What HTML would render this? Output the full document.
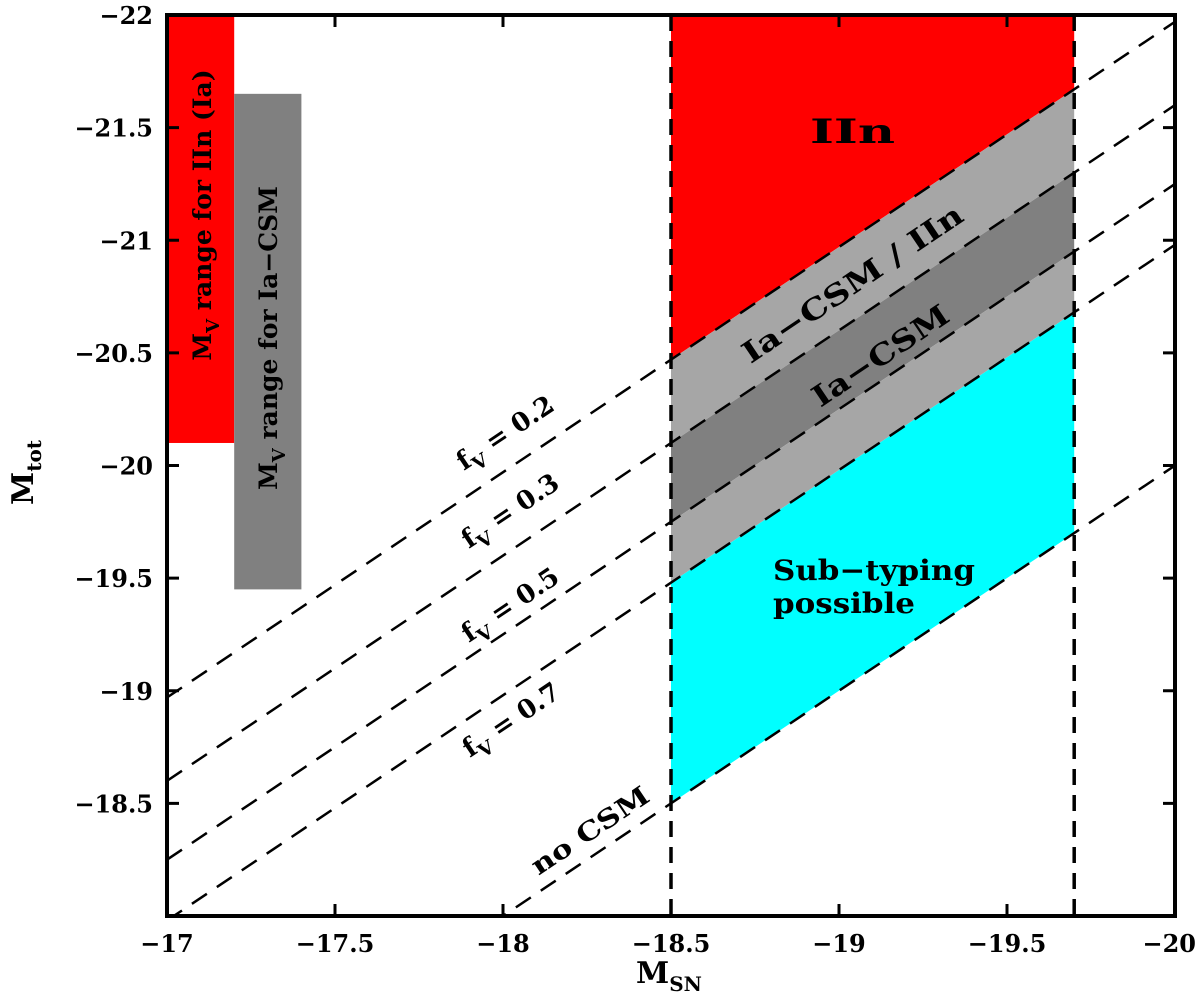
<!DOCTYPE html>
<html><head><meta charset="utf-8"><style>
html,body{margin:0;padding:0;background:#fff;width:1200px;height:1004px;overflow:hidden;}
svg{display:block;font-family:"DejaVu Serif","Liberation Serif",serif;font-weight:bold;}
text{font-weight:bold;}
</style></head><body>
<div style="position:relative;width:1200px;height:1004px;overflow:hidden;">
<svg id="chart" width="1200" height="1004" viewBox="0 0 1200 1004" style="position:absolute;left:0;top:0;"></svg>
<svg width="1200" height="1004" style="position:absolute;left:0;top:0;">
<text x="636" y="983" font-size="30">M<tspan font-size="20" dy="8">SN</tspan></text>
<text transform="translate(33,505) rotate(-90)" font-size="30">M<tspan font-size="20" dy="8">tot</tspan></text>
<text x="810" y="143" font-size="34" textLength="85" lengthAdjust="spacingAndGlyphs">IIn</text>
<text transform="translate(858,292) rotate(-33.9)" text-anchor="middle" font-size="29" textLength="259" lengthAdjust="spacingAndGlyphs">Ia−CSM / IIn</text>
<text transform="translate(886,364) rotate(-33.9)" text-anchor="middle" font-size="29" textLength="158" lengthAdjust="spacingAndGlyphs">Ia−CSM</text>
<text x="773" y="580" font-size="28" textLength="202" lengthAdjust="spacingAndGlyphs">Sub−typing</text>
<text x="773" y="613" font-size="28" textLength="142" lengthAdjust="spacingAndGlyphs">possible</text>
<text transform="translate(510,440) rotate(-33.9)" text-anchor="middle" font-size="26">f<tspan font-size="19" dy="8">V</tspan><tspan dy="-8"> = 0.2</tspan></text>
<text transform="translate(515,518) rotate(-33.9)" text-anchor="middle" font-size="26">f<tspan font-size="19" dy="8">V</tspan><tspan dy="-8"> = 0.3</tspan></text>
<text transform="translate(515,612) rotate(-33.9)" text-anchor="middle" font-size="26">f<tspan font-size="19" dy="8">V</tspan><tspan dy="-8"> = 0.5</tspan></text>
<text transform="translate(516,727) rotate(-33.9)" text-anchor="middle" font-size="26">f<tspan font-size="19" dy="8">V</tspan><tspan dy="-8"> = 0.7</tspan></text>
<text transform="translate(595,838) rotate(-33.9)" text-anchor="middle" font-size="26" textLength="136" lengthAdjust="spacingAndGlyphs">no CSM</text>
<text transform="translate(211,215) rotate(-90)" text-anchor="middle" font-size="25">M<tspan font-size="18" dy="8">V</tspan><tspan dy="-8"> range for IIn (Ia)</tspan></text>
<text transform="translate(277,338) rotate(-90)" text-anchor="middle" font-size="25">M<tspan font-size="18" dy="8">V</tspan><tspan dy="-8"> range for Ia−CSM</tspan></text>
</svg>
</div>
<script>
// data
const xTicks = [-17, -17.5, -18, -18.5, -19, -19.5, -20];
const xTickLabels = ['\u221217', '\u221217.5', '\u221218', '\u221218.5', '\u221219', '\u221219.5', '\u221220'];
const yTicks = [-22, -21.5, -21, -20.5, -20, -19.5, -19, -18.5];
const yTickLabels = ['\u221222', '\u221221.5', '\u221221', '\u221220.5', '\u221220', '\u221219.5', '\u221219', '\u221218.5'];
const lineNames = ['f-0.2', 'f-0.3', 'f-0.5', 'f-0.7', 'no-csm'];
const lineOffsets = [-1.97, -1.6, -1.25, -0.98, 0];
const windowX = [-18.5, -19.7];
const rectIIn = [-17, -17.2, -22, -20.1];
const rectIaCSM = [-17.2, -17.4, -21.65, -19.45];

const L = 167, R = 1175, T = 15, B = 916;
const X0 = -17, X1 = -20, Y0 = -22, Y1 = -18;
const sx = v => L + (v - X0) / (X1 - X0) * (R - L);
const sy = v => T + (v - Y0) / (Y1 - Y0) * (B - T);
const NS = 'http://www.w3.org/2000/svg';
const svg = document.getElementById('chart');
function mk(tag, attrs, parent) {
  const e = document.createElementNS(NS, tag);
  for (const k in attrs) e.setAttribute(k, attrs[k]);
  (parent || svg).appendChild(e);
  return e;
}
const defs = mk('defs', {});
const cp = mk('clipPath', {id: 'plotclip'}, defs);
mk('rect', {x: L, y: T, width: R - L, height: B - T}, cp);
const plot = mk('g', {'clip-path': 'url(#plotclip)'});



let r = mk('rect', {x: sx(rectIIn[0]), y: sy(rectIIn[2]), width: sx(rectIIn[1]) - sx(rectIIn[0]), height: sy(rectIIn[3]) - sy(rectIIn[2]), fill: '#ff0000'}, plot);


r = mk('rect', {x: sx(rectIaCSM[0]), y: sy(rectIaCSM[2]), width: sx(rectIaCSM[1]) - sx(rectIaCSM[0]), height: sy(rectIaCSM[3]) - sy(rectIaCSM[2]), fill: '#808080'}, plot);



const xa = windowX[0], xb = windowX[1];
function band(topOff, botOff, fill, name) {
  const ya1 = topOff === null ? Y0 : xa + topOff, yb1 = topOff === null ? Y0 : xb + topOff;
  const pts = [[sx(xa), sy(ya1)], [sx(xb), sy(yb1)], [sx(xb), sy(xb + botOff)], [sx(xa), sy(xa + botOff)]];
  const p = mk('polygon', {points: pts.map(q => q.join(',')).join(' '), fill: fill}, plot);
  
  
}
band(null, lineOffsets[0], '#ff0000', 'iin-region');
band(lineOffsets[0], lineOffsets[1], '#a6a6a6', 'ia-csm-iin-region');
band(lineOffsets[1], lineOffsets[2], '#808080', 'ia-csm-region');
band(lineOffsets[2], lineOffsets[3], '#a6a6a6', 'ia-csm-lower-region');
band(lineOffsets[3], lineOffsets[4], '#00ffff', 'sub-typing-region');

lineOffsets.forEach((o, i) => {
  const l = mk('line', {x1: sx(X0), y1: sy(X0 + o), x2: sx(X1), y2: sy(X1 + o), stroke: '#000', 'stroke-width': 2.5, 'stroke-dasharray': '18,12'}, plot);
  
  
});
windowX.forEach((v, i) => {
  const l = mk('line', {x1: sx(v), y1: T, x2: sx(v), y2: B, stroke: '#000', 'stroke-width': 3.5, 'stroke-dasharray': '16,10'}, plot);
  
  
});

const frame = mk('rect', {x: L, y: T, width: R - L, height: B - T, fill: 'none', stroke: '#000', 'stroke-width': 4});


xTicks.forEach((v, i) => {
  mk('line', {x1: sx(v), y1: B, x2: sx(v), y2: B - 12, stroke: '#000', 'stroke-width': 3});
  mk('line', {x1: sx(v), y1: T, x2: sx(v), y2: T + 12, stroke: '#000', 'stroke-width': 3});
  const last = i === xTicks.length - 1;
  const t = mk('text', {x: last ? 1196 : sx(v), y: B + 36, 'text-anchor': last ? 'end' : 'middle', 'font-size': 24, 'font-weight': 'bold'});
  t.textContent = xTickLabels[i];
  
  
});
yTicks.forEach((v, i) => {
  mk('line', {x1: L, y1: sy(v), x2: L + 12, y2: sy(v), stroke: '#000', 'stroke-width': 3});
  mk('line', {x1: R, y1: sy(v), x2: R - 12, y2: sy(v), stroke: '#000', 'stroke-width': 3});
  const t = mk('text', {x: L - 14, y: sy(v) + 9, 'text-anchor': 'end', 'font-size': 24, 'font-weight': 'bold'});
  t.textContent = yTickLabels[i];
  
  
});
</script>
</body></html>
